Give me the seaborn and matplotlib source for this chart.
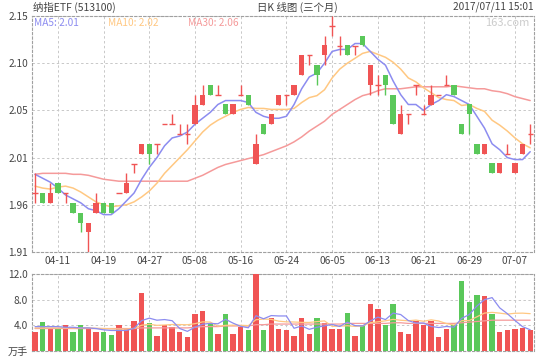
import numpy as np
import matplotlib
matplotlib.use("Agg")
import matplotlib.pyplot as plt
import seaborn as sns

# trading days shown (3 months up to 2017-07-11)
DATES = ["04-06", "04-07", "04-10", "04-11", "04-12", "04-13", "04-14", "04-17", "04-18", "04-19",
         "04-20", "04-21", "04-24", "04-25", "04-26", "04-27", "04-28", "05-02", "05-03", "05-04",
         "05-05", "05-08", "05-09", "05-10", "05-11", "05-12", "05-15", "05-16", "05-17", "05-18",
         "05-19", "05-22", "05-23", "05-24", "05-25", "05-26", "05-31", "06-01", "06-02", "06-05",
         "06-06", "06-07", "06-08", "06-09", "06-12", "06-13", "06-14", "06-15", "06-16", "06-19",
         "06-20", "06-21", "06-22", "06-23", "06-26", "06-27", "06-28", "06-29", "06-30", "07-03",
         "07-04", "07-05", "07-06", "07-07", "07-10", "07-11"]
TICK_DATES = ["04-11", "04-19", "04-27", "05-08", "05-16", "05-24", "06-05", "06-13", "06-21", "06-29", "07-07"]

OPEN = [1.97, 1.97, 1.96, 1.98, 1.97, 1.96, 1.95, 1.93, 1.95, 1.96,
        1.96, 1.97, 1.97, 2.00, 2.01, 2.02, 2.02, 2.04, 2.04, 2.03,
        2.03, 2.04, 2.06, 2.08, 2.07, 2.06, 2.05, 2.07, 2.07, 2.00,
        2.04, 2.04, 2.06, 2.07, 2.07, 2.09, 2.11, 2.10, 2.11, 2.14,
        2.12, 2.12, 2.12, 2.13, 2.08, 2.08, 2.09, 2.07, 2.03, 2.05,
        2.08, 2.05, 2.06, 2.07, 2.08, 2.08, 2.04, 2.06, 2.02, 2.01,
        2.00, 1.99, 2.01, 1.99, 2.01, 2.03]
HIGH = [1.99, 1.97, 1.98, 1.98, 1.97, 1.96, 1.95, 1.94, 1.97, 1.96,
        1.96, 1.97, 1.99, 2.00, 2.02, 2.02, 2.02, 2.04, 2.05, 2.04,
        2.04, 2.07, 2.08, 2.08, 2.08, 2.06, 2.06, 2.08, 2.07, 2.03,
        2.04, 2.05, 2.07, 2.07, 2.08, 2.11, 2.11, 2.10, 2.13, 2.15,
        2.13, 2.12, 2.12, 2.13, 2.10, 2.09, 2.09, 2.07, 2.06, 2.05,
        2.08, 2.06, 2.08, 2.07, 2.09, 2.08, 2.04, 2.06, 2.02, 2.02,
        2.00, 2.00, 2.02, 2.00, 2.02, 2.04]
LOW = [1.96, 1.96, 1.96, 1.97, 1.96, 1.95, 1.93, 1.91, 1.95, 1.95,
       1.95, 1.97, 1.97, 1.99, 2.01, 2.00, 2.01, 2.04, 2.04, 2.03,
       2.02, 2.04, 2.06, 2.07, 2.07, 2.05, 2.05, 2.07, 2.06, 2.00,
       2.03, 2.04, 2.06, 2.06, 2.07, 2.09, 2.10, 2.08, 2.10, 2.13,
       2.11, 2.11, 2.11, 2.12, 2.07, 2.07, 2.07, 2.04, 2.03, 2.04,
       2.07, 2.05, 2.06, 2.07, 2.08, 2.07, 2.03, 2.03, 2.01, 2.01,
       1.99, 1.99, 2.01, 1.99, 2.01, 2.02]
CLOSE = [1.97, 1.96, 1.97, 1.97, 1.97, 1.95, 1.94, 1.94, 1.96, 1.95,
         1.95, 1.97, 1.98, 2.00, 2.02, 2.01, 2.02, 2.04, 2.04, 2.03,
         2.03, 2.06, 2.07, 2.07, 2.07, 2.05, 2.06, 2.07, 2.06, 2.02,
         2.03, 2.05, 2.07, 2.07, 2.08, 2.11, 2.11, 2.09, 2.12, 2.14,
         2.12, 2.11, 2.12, 2.12, 2.10, 2.08, 2.08, 2.04, 2.05, 2.05,
         2.08, 2.05, 2.07, 2.07, 2.08, 2.07, 2.03, 2.05, 2.01, 2.02,
         1.99, 2.00, 2.01, 2.00, 2.02, 2.03]

MA5 = [1.989, 1.985, 1.981, 1.975, 1.968, 1.964, 1.960, 1.954, 1.952, 1.948,
       1.948, 1.954, 1.962, 1.970, 1.984, 1.996, 2.006, 2.018, 2.026, 2.028,
       2.032, 2.040, 2.046, 2.052, 2.060, 2.064, 2.064, 2.064, 2.062, 2.052,
       2.048, 2.046, 2.046, 2.048, 2.060, 2.076, 2.088, 2.092, 2.102, 2.114,
       2.116, 2.116, 2.122, 2.122, 2.114, 2.106, 2.100, 2.084, 2.070, 2.060,
       2.060, 2.054, 2.060, 2.064, 2.070, 2.068, 2.064, 2.060, 2.048, 2.036,
       2.020, 2.014, 2.006, 2.004, 2.004, 2.012]
MA10 = [1.977, 1.975, 1.974, 1.976, 1.977, 1.975, 1.971, 1.966, 1.961, 1.958,
        1.956, 1.957, 1.958, 1.961, 1.966, 1.972, 1.980, 1.990, 1.998, 2.006,
        2.014, 2.023, 2.032, 2.039, 2.044, 2.048, 2.052, 2.055, 2.057, 2.056,
        2.056, 2.055, 2.055, 2.055, 2.056, 2.062, 2.067, 2.069, 2.075, 2.087,
        2.096, 2.102, 2.107, 2.112, 2.114, 2.111, 2.108, 2.103, 2.096, 2.087,
        2.083, 2.077, 2.072, 2.067, 2.065, 2.064, 2.059, 2.060, 2.056, 2.053,
        2.044, 2.039, 2.033, 2.026, 2.020, 2.016]
MA30 = [1.989, 1.990, 1.990, 1.990, 1.990, 1.989, 1.989, 1.988, 1.986, 1.984,
        1.983, 1.982, 1.982, 1.982, 1.982, 1.982, 1.982, 1.982, 1.982, 1.982,
        1.982, 1.985, 1.988, 1.992, 1.996, 1.999, 2.001, 2.003, 2.005, 2.007,
        2.009, 2.012, 2.015, 2.018, 2.022, 2.027, 2.033, 2.038, 2.043, 2.050,
        2.055, 2.060, 2.065, 2.069, 2.071, 2.074, 2.076, 2.076, 2.076, 2.077,
        2.078, 2.078, 2.078, 2.078, 2.078, 2.079, 2.078, 2.077, 2.076, 2.076,
        2.074, 2.073, 2.071, 2.068, 2.066, 2.064]

# volume, 万手
VOLUME = [3.0, 4.5, 3.5, 3.5, 4.0, 3.0, 4.0, 3.5, 3.0, 3.0,
          2.5, 4.0, 3.5, 4.7, 9.0, 4.4, 2.4, 4.0, 3.8, 2.9,
          2.2, 5.7, 6.3, 4.4, 2.6, 5.7, 2.7, 3.8, 3.3, 12.0,
          3.3, 5.2, 3.5, 3.3, 2.4, 5.1, 2.6, 5.1, 4.4, 3.5,
          3.5, 6.0, 2.4, 4.1, 7.4, 6.5, 4.1, 7.4, 3.0, 2.7,
          4.6, 4.1, 4.7, 2.2, 3.5, 4.1, 10.9, 7.7, 8.8, 8.5,
          5.7, 2.9, 3.2, 3.5, 3.65, 3.3]
VOL_MA5 = [3.8, 3.8, 3.8, 3.8, 3.7, 3.7, 3.6, 3.6, 3.5, 3.3,
           3.2, 3.2, 3.2, 3.54, 4.74, 5.12, 4.8, 4.9, 4.72, 3.5,
           3.06, 3.72, 4.18, 4.3, 4.24, 4.94, 4.34, 3.84, 3.62, 5.5,
           5.02, 5.52, 5.46, 5.46, 3.54, 3.9, 3.38, 3.7, 3.92, 4.14,
           3.82, 4.5, 3.96, 3.9, 4.68, 5.28, 4.9, 5.9, 5.68, 4.74,
           4.36, 4.36, 3.82, 3.66, 3.82, 3.72, 5.08, 5.68, 7.0, 8.0,
           8.32, 6.72, 5.82, 4.76, 3.79, 3.31]
VOL_MA10 = [3.6, 3.6, 3.6, 3.6, 3.6, 3.6, 3.6, 3.6, 3.55, 3.5,
            3.45, 3.4, 3.4, 3.52, 4.02, 4.16, 4.0, 4.05, 4.13, 4.12,
            4.09, 4.26, 4.54, 4.51, 3.87, 4.0, 4.03, 4.01, 3.96, 4.87,
            4.98, 4.93, 4.65, 4.54, 4.52, 4.46, 4.45, 4.58, 4.69, 3.84,
            3.86, 3.94, 3.83, 3.91, 4.41, 4.55, 4.7, 4.93, 4.79, 4.71,
            4.82, 4.63, 4.86, 4.67, 4.28, 4.04, 4.72, 4.75, 5.33, 5.91,
            6.02, 5.9, 5.75, 5.88, 5.9, 5.82]
VOL_MA30 = [3.5, 3.5, 3.5, 3.5, 3.5, 3.5, 3.5, 3.5, 3.5, 3.5,
            3.5, 3.5, 3.5, 3.5, 3.6, 3.6, 3.6, 3.6, 3.6, 3.6,
            3.6, 3.7, 3.8, 3.8, 3.8, 3.9, 3.9, 3.9, 3.9, 4.1,
            4.1, 4.2, 4.2, 4.2, 4.2, 4.2, 4.2, 4.2, 4.2, 4.2,
            4.2, 4.3, 4.3, 4.3, 4.3, 4.3, 4.3, 4.4, 4.4, 4.3,
            4.3, 4.3, 4.3, 4.3, 4.3, 4.3, 4.4, 4.5, 4.6, 4.7,
            4.8, 4.8, 4.8, 4.8, 4.8, 4.8]

RED = "#f05454"
GREEN = "#5ac85a"
C_MA5 = "#8c8cf0"
C_MA10 = "#ffc882"
C_MA30 = "#f59a9a"
GRID = "#c8c8c8"
TXT = "#444444"

sns.set_style("white")
plt.rcParams["font.family"] = ["Noto Sans CJK SC", "DejaVu Sans"]

W, H = 540, 360


def px(x, y):
    return x / W, 1 - y / H


def style_axes(ax):
    for s in ax.spines.values():
        s.set_linestyle((0, (2, 2)))
        s.set_color("#a0a0a0")
        s.set_linewidth(0.8)
    ax.tick_params(length=0, labelsize=7.3, labelcolor=TXT)
    ax.grid(True, color=GRID, linestyle=(0, (2.5, 2.5)), linewidth=0.7)
    ax.set_axisbelow(True)


idx = np.arange(len(DATES))
o, h, l, c = map(np.array, (OPEN, HIGH, LOW, CLOSE))
up = c >= o
tick_pos = [DATES.index(d) for d in TICK_DATES]

fig = plt.figure(figsize=(5.4, 3.6), dpi=100)
ax = fig.add_axes([32 / W, 1 - 252 / H, 502 / W, 236 / H])
vax = fig.add_axes([32 / W, 1 - 351 / H, 502 / W, 77 / H])

# price panel: moving averages
for vals, col in [(MA30, C_MA30), (MA10, C_MA10), (MA5, C_MA5)]:
    sns.lineplot(x=idx, y=vals, color=col, linewidth=1.1, ax=ax, zorder=2)

# candles
bw = 0.7
colors = np.where(up, RED, GREEN)
ax.vlines(idx, l, h, colors=colors, linewidth=1.0, zorder=3)
body = np.abs(c - o)
flat = body < 1e-9
ax.bar(idx[~flat], body[~flat], bottom=np.minimum(o, c)[~flat], width=bw,
       color=colors[~flat], linewidth=0, zorder=4)
ax.hlines(c[flat], idx[flat] - bw / 2, idx[flat] + bw / 2, colors=RED, linewidth=1.0, zorder=4)

ax.set_xlim(-0.4, 65.5)
ax.set_ylim(1.91, 2.15)
yt = np.linspace(1.91, 2.15, 6)
ax.set_yticks(yt)
ax.set_yticklabels([f"{v:.2f}" for v in yt])
ax.set_xticks(tick_pos)
ax.set_xticklabels(TICK_DATES)
ax.tick_params(axis="y", pad=3)
ax.tick_params(axis="x", pad=3)
style_axes(ax)

# volume panel
sns.barplot(x=idx, y=VOLUME, hue=np.where(up, "up", "down"), palette={"up": RED, "down": GREEN},
            native_scale=True, width=0.7, saturation=1, dodge=False, legend=False,
            errorbar=None, linewidth=0, ax=vax, zorder=3)
for vals, col in [(VOL_MA30, C_MA30), (VOL_MA10, C_MA10), (VOL_MA5, C_MA5)]:
    sns.lineplot(x=idx, y=vals, color=col, linewidth=0.9, ax=vax, zorder=4)
vax.set_xlim(-0.4, 65.5)
vax.set_ylim(0, 12)
vax.set_yticks([0, 4, 8, 12])
vax.set_yticklabels(["万手", "4.0", "8.0", "12.0"])
vax.set_xticks(tick_pos)
vax.set_xticklabels([])
vax.set_xlabel("")
vax.tick_params(axis="y", pad=3)
style_axes(vax)

# header texts
fig.text(*px(33, 7), "纳指ETF (513100)", fontsize=7.5, color=TXT, ha="left", va="center")
fig.text(*px(257, 7), "日K 线图 (三个月)", fontsize=7.5, color=TXT, ha="left", va="center")
fig.text(*px(534, 7), "2017/07/11 15:01", fontsize=7.3, color=TXT, ha="right", va="center")
fig.text(*px(34, 23), f"MA5: {MA5[-1]:.2f}", fontsize=7.3, color=C_MA5, ha="left", va="center")
fig.text(*px(108, 23), f"MA10: {MA10[-1]:.2f}", fontsize=7.3, color=C_MA10, ha="left", va="center")
fig.text(*px(188, 23), f"MA30: {MA30[-1]:.2f}", fontsize=7.3, color=C_MA30, ha="left", va="center")
fig.text(*px(529, 23), "163.com", fontsize=8, color="#cccccc", ha="right", va="center")

fig.savefig("out.png", dpi=100, facecolor="white")
